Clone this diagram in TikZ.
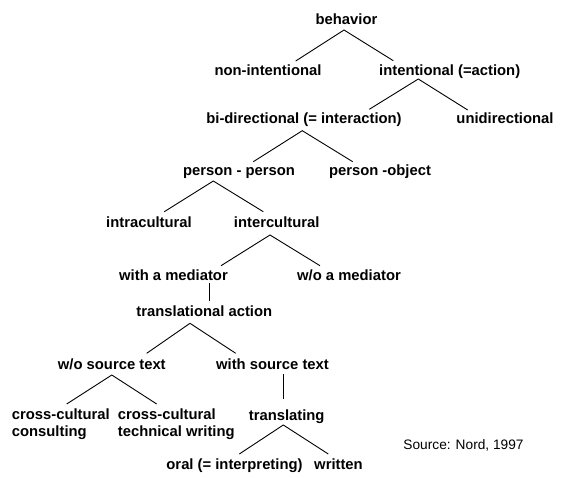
\documentclass[tikz,border=0pt]{standalone}
\usepackage{fontspec}
\setmainfont{Liberation Sans}
\begin{document}
\begin{tikzpicture}[x=1pt,y=-1pt,
  lbl/.style={inner sep=0pt,anchor=base,font=\fontsize{14.8}{16.7}\selectfont\bfseries},
  lblw/.style={lbl,anchor=base west,align=left},
  src/.style={inner sep=0pt,anchor=base,font=\fontsize{13.7}{16}\selectfont},
  edge/.style={draw=black,line width=0.9pt}]
\useasboundingbox (0,0) rectangle (576,477);
\node[lbl] (beh) at (346.5,24) {behavior};
\node[lbl] (nonint) at (268,75.7) {non-intentional};
\node[lbl] (intent) at (449.7,75) {intentional (=action)};
\node[lbl] (bidir) at (304,123.3) {bi-directional (= interaction)};
\node[lbl] (unidir) at (505,123) {unidirectional};
\node[lbl] (pp) at (239,175.7) {person - person};
\node[lbl] (po) at (380,175.7) {person -object};
\node[lbl] (intra) at (149,227.7) {intracultural};
\node[lbl] (inter) at (276.7,227.7) {intercultural};
\node[lbl] (withmed) at (173.5,280.3) {with a mediator};
\node[lbl] (womed) at (349,280.3) {w/o a mediator};
\node[lbl] (trans) at (204.3,316) {translational action};
\node[lbl] (wost) at (111.8,369) {w/o source text};
\node[lbl] (withst) at (272.5,369) {with source text};
\node[lblw] (cc1) at (11.7,436) {cross-cultural\\consulting};
\node[lblw] (cc2) at (117.7,436) {cross-cultural\\technical writing};
\node[lbl] (transl) at (286.7,420) {translating};
\node[lbl] (oral) at (234.5,469) {oral (= interpreting)};
\node[lbl] (written) at (338.5,469) {written};
\node[src] (source) at (463.5,449) {Source: Nord, 1997};

\draw[edge] ([shift={(27.7,-14.7)}]nonint.base) -- ([shift={(-2.5,6)}]beh.base) -- ([shift={(-56.4,-14.3)}]intent.base);
\draw[edge] ([shift={(65.3,-14)}]bidir.base) -- ([shift={(-31.4,4)}]intent.base) -- ([shift={(-37.3,-13)}]unidir.base);
\draw[edge] ([shift={(14.3,-14)}]pp.base) -- ([shift={(-1.7,7.4)}]bidir.base) -- ([shift={(-27.3,-14)}]po.base);
\draw[edge] ([shift={(15.3,-16)}]intra.base) -- ([shift={(-25.7,5.3)}]pp.base) -- ([shift={(-13.4,-16)}]inter.base);
\draw[edge] ([shift={(47.5,-14.6)}]withmed.base) -- ([shift={(-6.7,7.3)}]inter.base) -- ([shift={(-29,-14.6)}]womed.base);
\draw[edge] ([shift={(35.8,3)}]withmed.base) -- ([shift={(5,-15.3)}]trans.base);
\draw[edge] ([shift={(34.9,-15.7)}]wost.base) -- ([shift={(-14.3,7.3)}]trans.base) -- ([shift={(-36.8,-15.7)}]withst.base);
\draw[edge] ([shift={(55,-32)}]cc1.base west) -- ([shift={(0,6)}]wost.base) -- ([shift={(39,-32)}]cc2.base west);
\draw[edge] ([shift={(10.8,5)}]withst.base) -- ([shift={(-3.4,-20.7)}]transl.base);
\draw[edge] ([shift={(4.8,-15)}]oral.base) -- ([shift={(-3.4,5)}]transl.base) -- ([shift={(-10.2,-15)}]written.base);
\end{tikzpicture}
\end{document}
